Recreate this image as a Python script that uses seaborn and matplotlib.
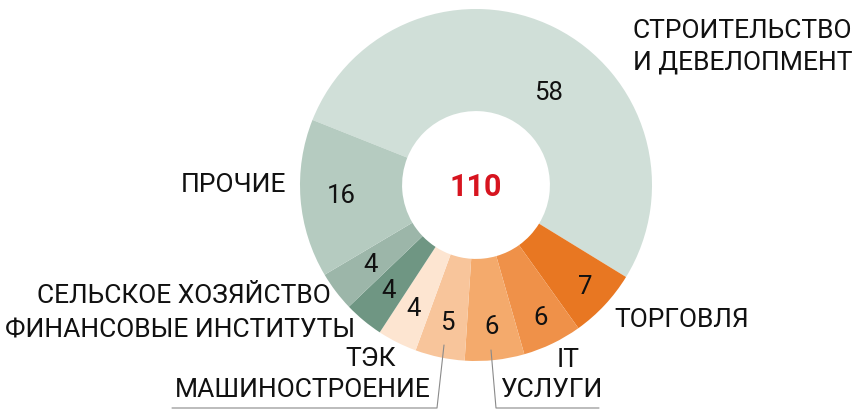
import numpy as np
import matplotlib
matplotlib.use("Agg")
import matplotlib.pyplot as plt
import seaborn as sns

sns.set_theme(style="white")
plt.rcParams["font.family"] = ["Roboto", "DejaVu Sans"]

# Sectors, clockwise from the top-right
sectors = ["СТРОИТЕЛЬСТВО\nИ ДЕВЕЛОПМЕНТ", "ТОРГОВЛЯ", "IT", "УСЛУГИ",
           "МАШИНОСТРОЕНИЕ", "ТЭК", "ФИНАНСОВЫЕ ИНСТИТУТЫ",
           "СЕЛЬСКОЕ ХОЗЯЙСТВО", "ПРОЧИЕ"]
counts = [58, 7, 6, 6, 5, 4, 4, 4, 16]
colors = ["#d0dfd8", "#e87722", "#ef9149", "#f4aa6c", "#f8c59b",
          "#fde5d1", "#6f9683", "#9cb6a9", "#b5cbc0"]
total = sum(counts)

W, H = 859, 418
fig = plt.figure(figsize=(W / 100, H / 100), dpi=100)
cx, cy, R = 476, 185, 176
ax = fig.add_axes([(cx - R) / W, (H - cy - R) / H, 2 * R / W, 2 * R / H])

wedges, _ = ax.pie(counts, colors=colors, startangle=158.3, counterclock=False,
                   radius=1.0, wedgeprops=dict(width=0.58, linewidth=0))
ax.set_xlim(-1, 1)
ax.set_ylim(-1, 1)
ax.set_aspect("equal")
ax.axis("off")

# Values inside the ring
dist = [0.665, 0.85, 0.84, 0.81, 0.80, 0.79, 0.78, 0.75, 0.77]
for w, v, d in zip(wedges, counts, dist):
    ang = np.deg2rad((w.theta1 + w.theta2) / 2)
    if v == 58:
        ang = np.deg2rad(52)
    ax.text(d * np.cos(ang), d * np.sin(ang), str(v), ha="center", va="center",
            fontsize=18.5, color="#111111")

ax.text(0, -0.01, str(total), ha="center", va="center", fontsize=22,
        fontweight="bold", color="#d7141f")


def px(x, y):
    return x / W, 1 - y / H


lab = dict(fontsize=19, color="#111111", va="center")
fig.text(*px(633, 31), "СТРОИТЕЛЬСТВО", ha="left", **lab)
fig.text(*px(633, 62), "И ДЕВЕЛОПМЕНТ", ha="left", **lab)
fig.text(*px(286, 185), "ПРОЧИЕ", ha="right", **lab)
fig.text(*px(331, 296), "СЕЛЬСКОЕ ХОЗЯЙСТВО", ha="right", **lab)
fig.text(*px(355, 330), "ФИНАНСОВЫЕ ИНСТИТУТЫ", ha="right", **lab)
fig.text(*px(396, 359), "ТЭК", ha="right", **lab)
fig.text(*px(431, 390), "МАШИНОСТРОЕНИЕ", ha="right", **lab)
fig.text(*px(614, 320), "ТОРГОВЛЯ", ha="left", **lab)
fig.text(*px(557, 360), "IT", ha="left", **lab)
fig.text(*px(500, 390), "УСЛУГИ", ha="left", **lab)

# Leader lines
line = dict(color="#8a8a8a", linewidth=0.8, transform=fig.transFigure)
xs, ys = zip(*[px(172, 408), px(437, 408), px(444, 345)])
fig.add_artist(plt.Line2D(xs, ys, **line))
xs, ys = zip(*[px(491, 350), px(496, 408), px(599, 408)])
fig.add_artist(plt.Line2D(xs, ys, **line))

fig.savefig("out.png", dpi=100, facecolor="white")
